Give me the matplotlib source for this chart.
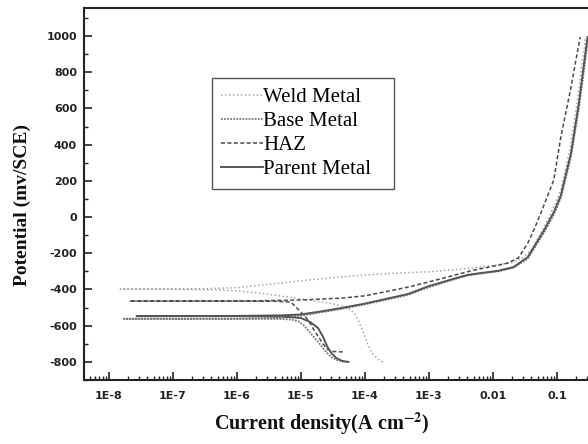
import matplotlib
matplotlib.use("Agg")
import matplotlib.pyplot as plt
from matplotlib.ticker import FixedLocator, FixedFormatter, MultipleLocator, LogLocator, NullFormatter

plt.rcParams['mathtext.fontset'] = 'stix'
plt.rcParams['axes.unicode_minus'] = False

# ---------------- data ----------------
series_names = ["Weld Metal", "Base Metal", "HAZ", "Parent Metal"]

# Weld Metal
weld_cath_i = [1.5e-8, 1e-7, 5e-7, 1e-6, 2e-6, 5e-6, 1e-5, 2e-5, 3e-5, 4.2e-5, 5.5e-5, 6.8e-5, 8e-5, 9.5e-5, 1.1e-4, 1.3e-4, 1.6e-4, 1.9e-4]
weld_cath_e = [-398, -399, -402, -408, -418, -437, -452, -468, -478, -488, -505, -530, -575, -640, -700, -752, -785, -800]
weld_anod_i = [1.5e-8, 3e-7, 1e-6, 3e-6, 1e-5, 3e-5, 1e-4, 3e-4, 1e-3, 3e-3, 1e-2, 2e-2, 3e-2, 4e-2, 6e-2, 0.09, 0.115, 0.16, 0.21, 0.28]
weld_anod_e = [-398, -396, -390, -372, -352, -335, -320, -310, -302, -288, -268, -250, -222, -180, -70, 60, 150, 380, 650, 994]

# Base Metal
base_cath_i = [1.7e-8, 1e-6, 5e-6, 7e-6, 9e-6, 1.1e-5, 1.4e-5, 1.85e-5, 2.4e-5, 2.95e-5, 3.8e-5, 5.3e-5]
base_cath_e = [-562, -562, -563, -566, -575, -597, -640, -690, -740, -773, -793, -800]
base_anod_i = [1.7e-8, 1e-6, 5e-6, 1e-5, 2e-5, 4.2e-5, 1e-4, 4.7e-4, 1e-3, 2.8e-3, 4e-3, 6.5e-3, 1.2e-2, 2.1e-2, 3.5e-2, 6.3e-2, 0.09, 0.115, 0.166, 0.22, 0.31]
base_anod_e = [-562, -561, -556, -545, -527, -508, -482, -430, -387, -338, -323, -312, -300, -280, -230, -85, 15, 105, 335, 600, 994]

# HAZ
haz_cath_i = [2.1e-8, 1e-6, 4e-6, 7e-6, 1e-5, 1.3e-5, 1.6e-5, 2.2e-5, 2.6e-5, 3e-5, 4.5e-5]
haz_cath_e = [-464, -464, -465, -470, -525, -569, -624, -700, -730, -742, -745]
haz_anod_i = [2.1e-8, 2e-6, 1e-5, 4.2e-5, 1e-4, 4.7e-4, 1e-3, 5e-3, 1e-2, 1.7e-2, 2.5e-2, 3.5e-2, 4.5e-2, 5.6e-2, 8.9e-2, 0.115, 0.166, 0.23]
haz_anod_e = [-464, -463, -458, -448, -435, -387, -358, -293, -272, -254, -225, -144, -60, 22, 204, 442, 718, 994]

# Parent Metal
par_cath_i = [2.7e-8, 1e-6, 5e-6, 1e-5, 1.4e-5, 1.85e-5, 2.2e-5, 2.6e-5, 3e-5, 3.6e-5, 4.5e-5, 5.5e-5]
par_cath_e = [-547, -547, -549, -558, -580, -613, -660, -718, -752, -780, -796, -800]
par_anod_i = [2.7e-8, 1e-6, 5e-6, 1e-5, 2e-5, 4.2e-5, 1e-4, 4.7e-4, 1e-3, 2.8e-3, 4e-3, 6.5e-3, 1.2e-2, 2.1e-2, 3.5e-2, 6.3e-2, 0.09, 0.115, 0.166, 0.22, 0.3]
par_anod_e = [-547, -546, -543, -538, -522, -503, -478, -425, -381, -335, -320, -309, -297, -276, -221, -72, 30, 120, 354, 630, 994]

x_tick_values = [1e-8, 1e-7, 1e-6, 1e-5, 1e-4, 1e-3, 1e-2, 1e-1]
x_tick_labels = ["1E-8", "1E-7", "1E-6", "1E-5", "1E-4", "1E-3", "0.01", "0.1"]
y_tick_values = [-800, -600, -400, -200, 0, 200, 400, 600, 800, 1000]

# ---------------- figure ----------------
W, H = 588, 444
fig = plt.figure(figsize=(W / 100, H / 100), dpi=100)
ax = fig.add_axes([84 / W, 1 - 380 / H, (W - 84) / W, (380 - 8) / H])

def curve(ci, ce, ai, ae):
    return list(reversed(ci)) + ai[1:], list(reversed(ce)) + ae[1:]

styles = [
    dict(color="#a6a6a6", lw=1.1, linestyle=(0, (1, 1.6))),
    dict(color="#7a7a7a", lw=1.3, linestyle=(0, (1, 0.7))),
    dict(color="#4a4a4a", lw=1.1, linestyle=(0, (2.6, 1.6))),
    dict(color="#555555", lw=1.4, linestyle="-"),
]
data = [
    (weld_cath_i, weld_cath_e, weld_anod_i, weld_anod_e),
    (base_cath_i, base_cath_e, base_anod_i, base_anod_e),
    (haz_cath_i, haz_cath_e, haz_anod_i, haz_anod_e),
    (par_cath_i, par_cath_e, par_anod_i, par_anod_e),
]
for name, st, d in zip(series_names, styles, data):
    xs, ys = curve(*d)
    ax.plot(xs, ys, label=name, **st)

ax.set_xscale("log")
ax.set_xlim(10 ** -8.39, 10 ** -0.515)
ax.set_ylim(-900, 1155)

ax.xaxis.set_major_locator(FixedLocator(x_tick_values))
ax.xaxis.set_major_formatter(FixedFormatter(x_tick_labels))
ax.xaxis.set_minor_locator(LogLocator(base=10, subs=range(2, 10), numticks=20))
ax.xaxis.set_minor_formatter(NullFormatter())
ax.yaxis.set_major_locator(FixedLocator(y_tick_values))
ax.yaxis.set_minor_locator(MultipleLocator(100))

ax.tick_params(which="major", direction="in", length=5.5, width=1.2, color="#222222",
               labelsize=8, pad=5)
ax.tick_params(which="minor", direction="in", length=3, width=1.0, color="#222222")
ax.tick_params(axis="x", which="major", pad=8)
ax.tick_params(top=False, right=False, which="both")
for lab in ax.get_xticklabels() + ax.get_yticklabels():
    lab.set_fontweight("bold")
    lab.set_family("DejaVu Sans")
    lab.set_color("#222222")

for s in ["left", "bottom", "top"]:
    ax.spines[s].set_linewidth(1.5)
    ax.spines[s].set_color("#222222")
ax.spines["right"].set_visible(False)

aw, ah = (W - 84), (380 - 8)
lx0 = (212 - 84) / aw
lw_ = (394 - 212) / aw
ltop = (380 - 78) / ah
leg = ax.legend(loc="upper left", bbox_to_anchor=(lx0, ltop - 0.3, lw_, 0.3), mode="expand",
                borderaxespad=0, frameon=True, fancybox=False, edgecolor="#555555",
                prop=dict(family="Liberation Serif", size=15), handlelength=2.0,
                handletextpad=0.0, labelspacing=0.22, borderpad=0.45)
leg.get_frame().set_linewidth(1.0)
leg.get_frame().set_alpha(1)

fig.text(22 / W, 1 - 205 / H, "Potential (mv/SCE)", rotation=90, ha="center", va="center",
         family="Liberation Serif", fontweight="bold", fontsize=14, color="#111111")
fig.text(322 / W, 1 - 430 / H, r"Current density(A cm$^{\mathbf{-2}}$)", ha="center", va="baseline",
         family="Liberation Serif", fontweight="bold", fontsize=14.5, color="#111111")

fig.savefig("out.png", dpi=100)
